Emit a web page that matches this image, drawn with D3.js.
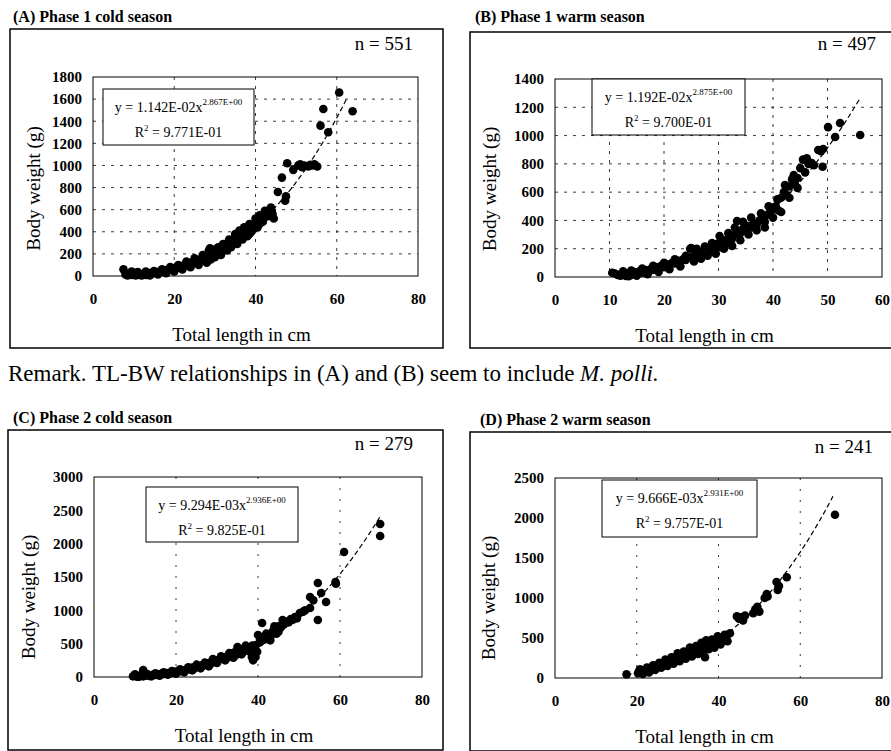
<!DOCTYPE html>
<html lang="en">
<head>
<meta charset="UTF-8">
<title>TL-BW relationships</title>
<script src="https://d3js.org/d3.v7.min.js"></script>
<style>
    body { margin: 0; background: #fff; }
    svg { display: block; font-family: "Liberation Serif", "Times New Roman", serif; }
    .panel-title { font-family: "Liberation Serif", serif; font-size: 16px; font-weight: bold; }
    .n-label { font-family: "Liberation Serif", serif; font-size: 19px; }
    .tick-label { font-family: "Liberation Serif", serif; font-size: 15px; font-weight: bold; fill: #000; }
    .axis-title { font-family: "Liberation Serif", serif; font-size: 19px; }
    .eq { font-family: "Liberation Serif", serif; font-size: 14px; }
    .remark { font-family: "Liberation Serif", serif; font-size: 23px; }
</style>
</head>
<body>
<svg id="chart" width="891" height="751"></svg>
<script>
// panel texts
const titles = ["(A) Phase 1 cold season", "(B) Phase 1 warm season", "(C) Phase 2 cold season", "(D) Phase 2 warm season"];
const nLabels = ["n = 551", "n = 497", "n = 279", "n = 241"];
const eqMain = ["y = 1.142E-02x", "y = 1.192E-02x", "y = 9.294E-03x", "y = 9.666E-03x"];
const eqPow = ["2.867E+00", "2.875E+00", "2.936E+00", "2.931E+00"];
const r2Text = ["9.771E-01", "9.700E-01", "9.825E-01", "9.757E-01"];

// fitted power curves W = a * TL^b, and where the drawn curve ends
const fitA = [1.142e-2, 1.192e-2, 9.294e-3, 9.666e-3];
const fitB = [2.867, 2.875, 2.936, 2.931];
const fitEnd = [62.5, 56, 70, 68];

// axis ticks
const xTicks80 = [0, 20, 40, 60, 80];
const xTicks60 = [0, 10, 20, 30, 40, 50, 60];
const yTicksA = [0, 200, 400, 600, 800, 1000, 1200, 1400, 1600, 1800];
const yTicksB = [0, 200, 400, 600, 800, 1000, 1200, 1400];
const yTicksC = [0, 500, 1000, 1500, 2000, 2500, 3000];
const yTicksD = [0, 500, 1000, 1500, 2000, 2500];

// [total length cm, body weight g]
const ptsA = [[7.5,60],[8,15],[8.5,5],[9,20],[9.5,40],[9.5,10],[10,12],[10.5,5],[11,18],[11.5,10],[12,15],[12.5,22],[13,10],[13.5,25],[14,20],[14.5,30],[15,25],[15.5,35],[16,30],[16.5,42],[17,38],[17.5,50],[18,45],[18.5,58],[19,55],[19.5,70],[20,65],[20.5,80],[21,75],[21.5,90],[22,85],[22.5,100],[23,95],[23.5,110],[24,115],[24.5,125],[25,120],[25.5,140],[26,135],[26.5,150],[27,145],[27.5,165],[28,170],[28.5,230],[29,215],[29.5,180],[29,150],[30,200],[30.5,230],[31,215],[31.5,250],[32,240],[32.5,270],[33,260],[33.5,300],[34,290],[34.5,330],[35,350],[35.5,320],[36,380],[36.5,360],[37,410],[37.5,390],[38,420],[38.5,380],[39,450],[39.5,430],[40,480],[40.5,500],[41,470],[41.5,530],[42,520],[42.5,560],[43,580],[43.5,600],[44,590],[44.5,520],
    [10,30],[11,35],[12,5],[13,40],[14,5],[15,45],[16,15],[17,60],[18,25],[19,80],[20,40],[21,100],[22,60],[23,130],[24,80],[25,160],[26,100],[27,190],[28,120],[28.8,250],[29.3,240],[30,170],[30.8,260],[31.5,190],[32,290],[33,230],[33.5,330],[34,260],[35,380],[35.5,290],[36,410],[36.8,330],[37.2,440],[38,360],[38.5,470],[39,400],[40,520],[40.5,440],[41,550],[41.8,490],[42.3,590],[43,540],[43.8,620],[44.2,560],
    [45.5,760],[46.5,890],[47.3,680],[47.5,720],[47.8,1020],[49.3,960],[50.5,1000],[51,1010],[51.5,985],[52,1000],[53,990],[53.5,1005],[54,1000],[54.5,1010],[55.2,990],[56,1360],[56.7,1510],[57.9,1300],[60.6,1660],[63.9,1490]];
const ptsB = [[10.5,30],[11,25],[11.5,15],[12,10],[12.5,20],[13,8],[13.5,25],[14,15],[14.5,35],[15,25],[15.5,40],[16,30],[16.5,50],[17,45],[17.5,55],[18,50],[18.5,70],[19,60],[19.5,80],[20,70],[20.5,90],[21,85],[21.5,100],[22,95],[22.5,115],[23,110],[23.5,125],[24,120],[24.5,140],[25,205],[25.5,150],[26,165],[26.5,150],[27,180],[27.5,170],[28,195],[28.5,185],[29,215],[29.5,200],[30,240],[30.5,210],[31,260],[31.5,240],[32,285],[32.5,270],[33,300],[33.4,396],[33.5,320],[34,310],[34.5,340],[35,330],[35.5,360],[36,350],[36.5,380],[37,370],[37.5,400],[38,420],[38.5,390],[39,440],[39.5,460],[40,480],[40.5,500],[41,470],[41.5,560],[42,600],[42.5,580],[43,640],[43.5,690],[44,660],[44.5,700],
    [12.5,40],[13.5,5],[14,45],[15,10],[16,60],[17,20],[18,80],[19,35],[20,100],[21,55],[22,125],[23,75],[24,150],[24.8,200],[25.5,110],[26,200],[26.8,130],[27.5,215],[28,150],[28.8,240],[29.5,165],[30.2,290],[31,200],[31.8,310],[32.5,220],[33,350],[34,260],[34.5,390],[35.5,300],[36,420],[37,330],[37.8,450],[38.5,350],[39.2,500],[40,420],[40.8,550],[41.5,460],[42.2,650],[43,560],[43.8,720],[44.5,630],[45,770],
    [45.5,830],[45.9,740],[46.2,840],[46.5,800],[47.1,805],[47.5,790],[48.3,898],[48.8,890],[49.1,780],[49.2,905],[50.1,1060],[51.4,990],[52.3,1089],[56,1004]];
const ptsC = [[9.5,10],[10,20],[10.5,5],[11,15],[11.5,25],[12,105],[12,10],[12.5,20],[13,30],[13.5,15],[14,25],[14.5,35],[15,30],[15.5,40],[16,35],[16.5,50],[17,45],[17.5,55],[18,60],[18.5,55],[19,70],[19.5,65],[20,80],[20.5,75],[21,95],[21.5,90],[22,100],[22.5,110],[23,120],[23.5,115],[24,140],[24.5,130],[25,160],[25.5,150],[26,170],[26.5,165],[27,190],[27.5,180],[28,210],[28.5,200],[29,240],[29.5,230],[30,250],[30.5,260],[31,280],[31.5,270],[32,300],[32.5,290],[33,330],[33.5,310],[34,360],[34.5,380],[35,340],[35.5,420],[36,400],[36.5,380],[37,430],[37.5,410],[38,450],[38.5,300],[38.8,250],[39,350],[39.2,420],[39.5,480],[40,630],[40.5,520],[41,810],[41.5,560],[42,580],[42.5,620],[43,600],[43.5,680],[44,720],[44.5,650],[45,760],[45.5,740],
    [10,40],[11,5],[13,45],[14,10],[15,55],[16,20],[17,70],[18,35],[19,90],[20,50],[21,115],[22,70],[23,145],[24,100],[25,185],[26,130],[27,215],[28,160],[29,270],[30,210],[31,310],[32,250],[33,360],[34,290],[35,450],[36,340],[37,470],[38,380],[38.6,470],[39.4,300],[39.8,380],[40.5,560],[41.2,600],[42,650],[43,550],[44,760],[45,680],[46,780],
    [46,855],[46.5,800],[47,830],[47.5,820],[48,870],[48.5,860],[49,900],[49.5,880],[50.2,960],[51,980],[51.5,1000],[52.7,1035],[52.7,1200],[53.5,1150],[54.6,1410],[54.6,855],[55.4,1260],[56.6,1125],[58.9,1425],[59,1400],[61,1875],[69.8,2295],[69.8,2115]];
const ptsD = [[17.5,45],[20.3,60],[20.6,90],[21,70],[21.5,85],[22,100],[22.5,90],[23,120],[23.5,110],[24,140],[24.5,130],[25,160],[25.5,150],[26,180],[26.5,165],[27,200],[27.5,190],[28,220],[28.5,205],[29,240],[29.5,230],[30,270],[30.5,250],[31,290],[31.5,280],[32,320],[32.5,300],[33,340],[33.5,320],[34,360],[34.5,350],[35,390],[35.5,330],[36,420],[36.5,380],[36.7,260],[37,450],[37.5,400],[38,430],[38.5,460],[39,440],[39.5,470],[40,490],[40.5,480],[41,510],[41.5,500],[42,530],[42.8,560],
    [20.8,110],[21.5,50],[22.5,130],[23,70],[24,160],[24.5,100],[25.5,190],[26,130],[27,230],[27.5,150],[28.5,260],[29,180],[30,310],[30.5,210],[31.5,330],[32,240],[33,380],[33.5,270],[34.5,400],[35,300],[35.8,440],[36.2,310],[37,470],[37.6,360],[38.4,480],[39,380],[39.8,520],[40.5,420],[41.5,540],[42.2,460],
    [44.5,770],[45,740],[45.5,760],[46,720],[46.5,780],[48.5,810],[49,860],[49.5,890],[50,830],[51.3,1000],[51.8,1050],[52,1020],[54.2,1200],[54.5,1100],[54.8,1150],[56.7,1260],[68.5,2040]];

const panels = [
    { box: [10, 29, 443, 348], plot: [93, 77, 418, 276], titleX: 13, titleY: 22, nX: 413, nY: 50,
      pts: ptsA, xDomain: [0, 80], yDomain: [0, 1800], xTicks: xTicks80, yTicks: yTicksA,
      eq: [10, 12, 151, 56], yTitleX: -60, yTitleDy: 12, gridH: true, gridDash: "3,6" },
    { box: [470, 32, 896, 348], plot: [555, 79, 882, 277], titleX: 475, titleY: 22, nX: 876, nY: 50,
      pts: ptsB, xDomain: [0, 60], yDomain: [0, 1400], xTicks: xTicks60, yTicks: yTicksB,
      eq: [37, 0, 153, 56], yTitleX: -66, yTitleDy: 11, gridH: true, gridDash: "3,6" },
    { box: [8, 430, 443, 750], plot: [94, 477, 422, 677], titleX: 13, titleY: 423, nX: 413, nY: 450,
      pts: ptsC, xDomain: [0, 80], yDomain: [0, 3000], xTicks: xTicks80, yTicks: yTicksC,
      eq: [52, 10, 152, 55], yTitleX: -66, yTitleDy: 20, gridH: false, gridDash: "2,9" },
    { box: [470, 432, 896, 751], plot: [555, 478, 882, 678], titleX: 480, titleY: 425, nX: 873, nY: 453,
      pts: ptsD, xDomain: [0, 80], yDomain: [0, 2500], xTicks: xTicks80, yTicks: yTicksD,
      eq: [47, 2, 155, 57], yTitleX: -67, yTitleDy: 20, gridH: false, gridDash: "2,9" }
];

const svg = d3.select("#chart");
const fmt = d3.format("d");

panels.forEach((p, i) => {
    const g = svg.append("g");
    const [bx0, by0, bx1, by1] = p.box;
    const [px0, py0, px1, py1] = p.plot;

    g.append("rect")
        .attr("x", bx0).attr("y", by0)
        .attr("width", bx1 - bx0).attr("height", by1 - by0)
        .attr("fill", "none").attr("stroke", "#000").attr("stroke-width", 1.5);

    g.append("text").attr("class", "panel-title")
        .attr("x", p.titleX).attr("y", p.titleY).text(titles[i]);

    g.append("text").attr("class", "n-label")
        .attr("x", p.nX).attr("y", p.nY).attr("text-anchor", "end").text(nLabels[i]);

    const x = d3.scaleLinear().domain(p.xDomain).range([px0, px1]);
    const y = d3.scaleLinear().domain(p.yDomain).range([py1, py0]);

    // gridlines
    g.selectAll(".vgrid")
        .data(p.xTicks.slice(1, -1))
        .join("line")
        .attr("x1", d => x(d)).attr("x2", d => x(d))
        .attr("y1", py0).attr("y2", py1)
        .attr("stroke", "#222").attr("stroke-width", 0.9)
        .attr("stroke-dasharray", p.gridDash);
    if (p.gridH) {
        g.selectAll(".hgrid")
            .data(p.yTicks.slice(1, -1))
            .join("line")
            .attr("x1", px0).attr("x2", px1)
            .attr("y1", d => y(d)).attr("y2", d => y(d))
            .attr("stroke", "#222").attr("stroke-width", 0.9)
            .attr("stroke-dasharray", p.gridDash);
    }

    g.append("rect")
        .attr("x", px0).attr("y", py0)
        .attr("width", px1 - px0).attr("height", py1 - py0)
        .attr("fill", "none").attr("stroke", "#000").attr("stroke-width", 1);

    // axes, labels only
    g.append("g")
        .attr("transform", `translate(0,${py1})`)
        .call(d3.axisBottom(x).tickValues(p.xTicks).tickFormat(fmt).tickSize(0).tickPadding(17))
        .call(a => a.select(".domain").remove())
        .selectAll("text").attr("class", "tick-label");
    g.append("g")
        .attr("transform", `translate(${px0},0)`)
        .call(d3.axisLeft(y).tickValues(p.yTicks).tickFormat(fmt).tickSize(0).tickPadding(11))
        .call(a => a.select(".domain").remove())
        .selectAll("text").attr("class", "tick-label");

    g.append("text").attr("class", "axis-title")
        .attr("x", (px0 + px1) / 2 - 14).attr("y", py1 + 65)
        .attr("text-anchor", "middle").text("Total length in cm");

    const cy = (py0 + py1) / 2 + p.yTitleDy;
    g.append("text").attr("class", "axis-title")
        .attr("transform", `translate(${px0 + p.yTitleX},${cy}) rotate(-90)`)
        .attr("text-anchor", "middle").attr("dy", "0.35em")
        .text("Body weight (g)");

    // power trend line
    const x0 = d3.min(p.pts, d => d[0]);
    const curveX = d3.range(x0, fitEnd[i] + 0.001, 0.25);
    const line = d3.line()
        .x(d => x(d))
        .y(d => y(fitA[i] * Math.pow(d, fitB[i])));
    g.append("path")
        .attr("d", line(curveX))
        .attr("fill", "none").attr("stroke", "#000")
        .attr("stroke-width", 1.2).attr("stroke-dasharray", "5,3");

    // points
    g.selectAll(".pt")
        .data(p.pts)
        .join("circle")
        .attr("cx", d => x(d[0])).attr("cy", d => y(d[1]))
        .attr("r", 4.3).attr("fill", "#000");

    // equation box
    const [ex, ey, ew, eh] = p.eq;
    const eg = g.append("g").attr("transform", `translate(${px0 + ex},${py0 + ey})`);
    eg.append("rect").attr("width", ew).attr("height", eh)
        .attr("fill", "#fff").attr("stroke", "#000").attr("stroke-width", 1);
    const t1 = eg.append("text").attr("class", "eq")
        .attr("x", ew / 2).attr("y", 23).attr("text-anchor", "middle");
    t1.append("tspan").text(eqMain[i]);
    t1.append("tspan").attr("dy", -7).attr("font-size", 9).text(eqPow[i]);
    const t2 = eg.append("text").attr("class", "eq")
        .attr("x", ew / 2).attr("y", 48).attr("text-anchor", "middle");
    t2.append("tspan").text("R");
    t2.append("tspan").attr("dy", -6).attr("font-size", 9).text("2");
    t2.append("tspan").attr("dy", 6).text(" = " + r2Text[i]);
});

const remark = svg.append("text").attr("class", "remark").attr("x", 8).attr("y", 381);
remark.append("tspan").text("Remark. TL-BW relationships in (A) and (B) seem to include ");
remark.append("tspan").attr("font-style", "italic").text("M. polli.");
</script>
</body>
</html>
